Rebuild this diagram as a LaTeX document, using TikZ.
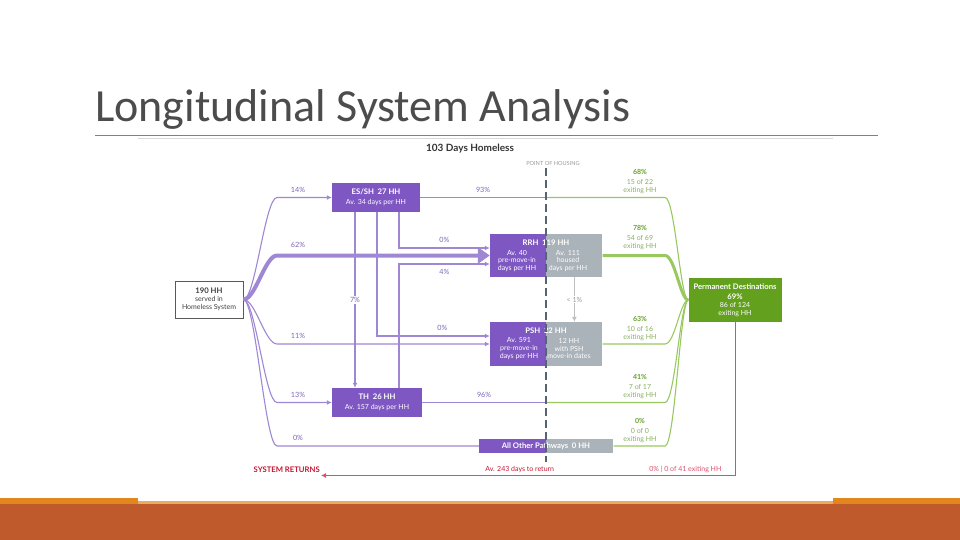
\documentclass[tikz,border=0pt]{standalone}
\usepackage{fontspec}
\setmainfont{Lato}
\newfontfamily\titlefont{Carlito}
\usepackage{tikz}
\usetikzlibrary{arrows.meta,positioning,calc}
\definecolor{boxpurple}{RGB}{126,87,194}
\definecolor{boxgray}{RGB}{170,178,186}
\definecolor{boxgreen}{RGB}{98,160,30}
\definecolor{flowpurple}{RGB}{160,135,212}
\definecolor{txtpurple}{RGB}{125,100,185}
\definecolor{flowgreen}{RGB}{152,200,95}
\definecolor{txtgreen}{RGB}{100,160,40}
\definecolor{subgreen}{RGB}{135,175,95}
\definecolor{retred}{RGB}{200,20,50}
\definecolor{retline}{RGB}{215,80,110}
\definecolor{dashgray}{RGB}{85,100,115}
\definecolor{bandbrown}{RGB}{190,90,43}
\definecolor{bandorange}{RGB}{226,135,30}
\newcommand\diasub{\fontsize{7}{7.9}\selectfont}
\newcommand\diahead{\fontsize{7.7}{9}\selectfont\bfseries}
\tikzset{
  hhbox/.style={fill=boxpurple,text=white,inner sep=0pt,align=center,font=\diasub},
  hhgray/.style={fill=boxgray,inner sep=0pt},
  hhtxt/.style={text=white,align=center,inner sep=0pt,font=\diasub},
  srcbox/.style={draw=black!65,fill=white,line width=0.9pt,minimum width=68pt,minimum height=37pt,inner sep=0pt,align=center,font=\diasub,text=black!75},
  destbox/.style={fill=boxgreen,text=white,minimum width=93pt,minimum height=44pt,inner sep=0pt,align=center,font=\diasub},
  pflow/.style={draw=flowpurple,line width=1.1pt},
  pbig/.style={draw=flowpurple,line width=4pt},
  gflow/.style={draw=flowgreen,line width=1.1pt},
  gbig/.style={draw=flowgreen,line width=3pt},
  plab/.style={text=txtpurple,font=\fontsize{7.2}{8}\selectfont,inner sep=1pt},
  glab/.style={text=subgreen,font=\diasub,align=center,inner sep=1pt},
  retln/.style={draw=retline,line width=1pt},
  retlab/.style={text=retred,font=\diasub,inner sep=1pt},
  housing/.style={draw=dashgray,line width=2.3pt,dash pattern=on 8pt off 4pt}
}

\begin{document}
\begin{tikzpicture}[x=1pt,y=-1pt,>={Latex[length=5pt,width=5pt]}]
  \useasboundingbox (0,0) rectangle (960,540);
  % slide
  \fill[bandbrown] (0,504) rectangle (960,540);
  \fill[bandorange] (0,498) rectangle (138,504);
  \fill[bandorange] (833,498) rectangle (960,504);
  \fill[bandorange!70] (138,501) rectangle (833,504);
  \node[font=\titlefont\fontsize{46}{50}\selectfont,text=black!70,anchor=base west,inner sep=0pt] (title) at (95,122) {Longitudinal System Analysis};
  \draw[black!50,line width=1pt] (95,136) -- (878,136);
  \draw[black!15,line width=0.8pt] (138,138.5) -- (833,138.5);

  % diagram
  \node[font=\fontsize{10}{12}\selectfont\bfseries,text=black!80] (days) at (470,149) {103 Days Homeless};
  \node[font=\fontsize{5.6}{7}\selectfont,text=black!40] (poh) at (553,163) {POINT OF HOUSING};
  \coordinate (hsgtop) at (546,168);
  \coordinate (hsgbot) at (546,462);
  \coordinate (fanx) at (277,0);
  \coordinate (gx) at (665,0);

  \node[srcbox] (src) at (209,299.5) {{\diahead 190 HH}\\served in\\Homeless System};
  \node[hhbox,minimum width=88pt,minimum height=29pt] (essh) at (376,197.5) {{\diahead ES/SH\ \ 27 HH}\\[2pt]Av. 34 days per HH};
  \node[hhbox,minimum width=90pt,minimum height=29pt] (th) at (377,402.5) {{\diahead TH\ \ 26 HH}\\[2pt]Av. 157 days per HH};

  \node[hhbox,minimum width=56pt,minimum height=43pt] (rrhL) at (518,255.5) {};
  \node[hhgray,minimum width=56pt,minimum height=43pt,right=0pt of rrhL] (rrhR) {};
  \node[hhtxt,font=\diahead] (rrhT) at (546,243) {RRH\ \ 119 HH};
  \node[hhtxt] (rrhA) at (517,261) {Av. 40\\pre-move-in\\days per HH};
  \node[hhtxt] (rrhB) at (568,261) {Av. 111\\housed\\days per HH};

  \node[hhbox,minimum width=56pt,minimum height=44pt] (pshL) at (518,344) {};
  \node[hhgray,minimum width=56pt,minimum height=44pt,right=0pt of pshL] (pshR) {};
  \node[hhtxt,font=\diahead] (pshT) at (546,331) {PSH\ \ 22 HH};
  \node[hhtxt] (pshA) at (519,348.5) {Av. 591\\pre-move-in\\days per HH};
  \node[hhtxt] (pshB) at (569,348.5) {12 HH\\with PSH\\move-in dates};

  \node[hhbox,minimum width=67pt,minimum height=14pt] (allL) at (512.5,446) {};
  \node[hhgray,minimum width=67pt,minimum height=14pt,right=0pt of allL] (allR) {};
  \node[hhtxt,font=\diahead] (allT) at (546,446) {All Other Pathways\ \ 0 HH};

  \node[destbox] (dest) at (735,300) {{\diahead Permanent Destinations}\\[2pt]{\diahead 69\%}\\86 of 124\\exiting HH};

  % entries
  \draw[pflow,->] (src.east) .. controls +(12,0) and +(-12,0) .. (essh.west -| fanx) node[plab,above=3.5pt,xshift=21pt]{14\%} -- (essh.west);
  \draw[pbig,-{Triangle[length=12pt,width=16pt]}] (src.east) .. controls +(12,0) and +(-12,0) .. (rrhL.west -| fanx) node[plab,above=5pt,xshift=21pt]{62\%} -- (rrhL.west);
  \draw[pflow,->] (src.east) .. controls +(12,0) and +(-12,0) .. (pshL.west -| fanx) node[plab,above=3.5pt,xshift=21pt]{11\%} -- (pshL.west);
  \draw[pflow,->] (src.east) .. controls +(12,0) and +(-12,0) .. (th.west -| fanx) node[plab,above=3.5pt,xshift=21pt]{13\%} -- (th.west);
  \draw[pflow] (src.east) .. controls +(12,0) and +(-12,0) .. (allL.west -| fanx) node[plab,above=3.5pt,xshift=21pt]{0\%} -- (allL.west);

  % moves between programs
  \draw[pflow,->] ($(essh.south)+(-21,0)$) -- ($(th.north)+(-22,0)$) node[plab,midway,fill=white]{7\%};
  \draw[pflow,->] ($(essh.south)+(1,0)$) |- ($(pshL.west)+(0,-8)$) node[plab,pos=0.79,above=3.5pt]{0\%};
  \draw[pflow,->] ($(essh.south)+(23,0)$) |- ($(rrhL.west)+(0,-7.5)$) node[plab,pos=0.75,above=3.5pt]{0\%};
  \draw[pflow,->] ($(th.north)+(22,0)$) |- ($(rrhL.west)+(0,8.5)$) node[plab,pos=0.75,below=3.5pt]{4\%};
  \draw[black!25,line width=1pt,->] (rrhR.south) -- (pshR.north) node[midway,fill=white,text=black!40,font=\diasub,inner sep=1pt]{< 1\%};

  % exits
  \draw[pflow] (essh.east) -- (essh.east -| hsgtop) node[plab,midway,above=3.5pt]{93\%};
  \draw[gflow] (essh.east -| hsgtop) -- (essh.east -| gx) node[glab,above=2pt,xshift=-25pt]{\textcolor{txtgreen}{\bfseries 68\%}\\[2pt]15 of 22\\exiting HH} .. controls +(10,0) and +(-8,0) .. (dest.west);
  \draw[gbig] (rrhR.east) -- (rrhR.east -| gx) node[glab,above=3pt,xshift=-25pt]{\textcolor{txtgreen}{\bfseries 78\%}\\[2pt]54 of 69\\exiting HH} .. controls +(10,0) and +(-8,0) .. (dest.west);
  \draw[gflow] (pshR.east) -- (pshR.east -| gx) node[glab,above=2pt,xshift=-25pt]{\textcolor{txtgreen}{\bfseries 63\%}\\[2pt]10 of 16\\exiting HH} .. controls +(10,0) and +(-8,0) .. (dest.west);
  \draw[pflow] (th.east) -- (th.east -| hsgtop) node[plab,midway,above=3.5pt]{96\%};
  \draw[gflow] (th.east -| hsgtop) -- (th.east -| gx) node[glab,above=2pt,xshift=-25pt]{\textcolor{txtgreen}{\bfseries 41\%}\\[2pt]7 of 17\\exiting HH} .. controls +(10,0) and +(-8,0) .. (dest.west);
  \draw[gflow] (allR.east) -- (allR.east -| gx) node[glab,above=2pt,xshift=-25pt]{\textcolor{txtgreen}{\bfseries 0\%}\\[2pt]0 of 0\\exiting HH} .. controls +(10,0) and +(-8,0) .. (dest.west);

  % returns
  \node[retlab,font=\diahead,text=retred,anchor=east] (sysret) at (321,470) {SYSTEM RETURNS};
  \draw[retln,->] (dest.south) |- ($(sysret.east)+(0,5.5)$) node[retlab,pos=0.76,above=1pt]{Av. 243 days to return} node[retlab,text=retline,pos=0.56,above=1pt]{0\% | 0 of 41 exiting HH};

  \draw[housing] (hsgtop) -- (hsgbot);
\end{tikzpicture}
\end{document}
